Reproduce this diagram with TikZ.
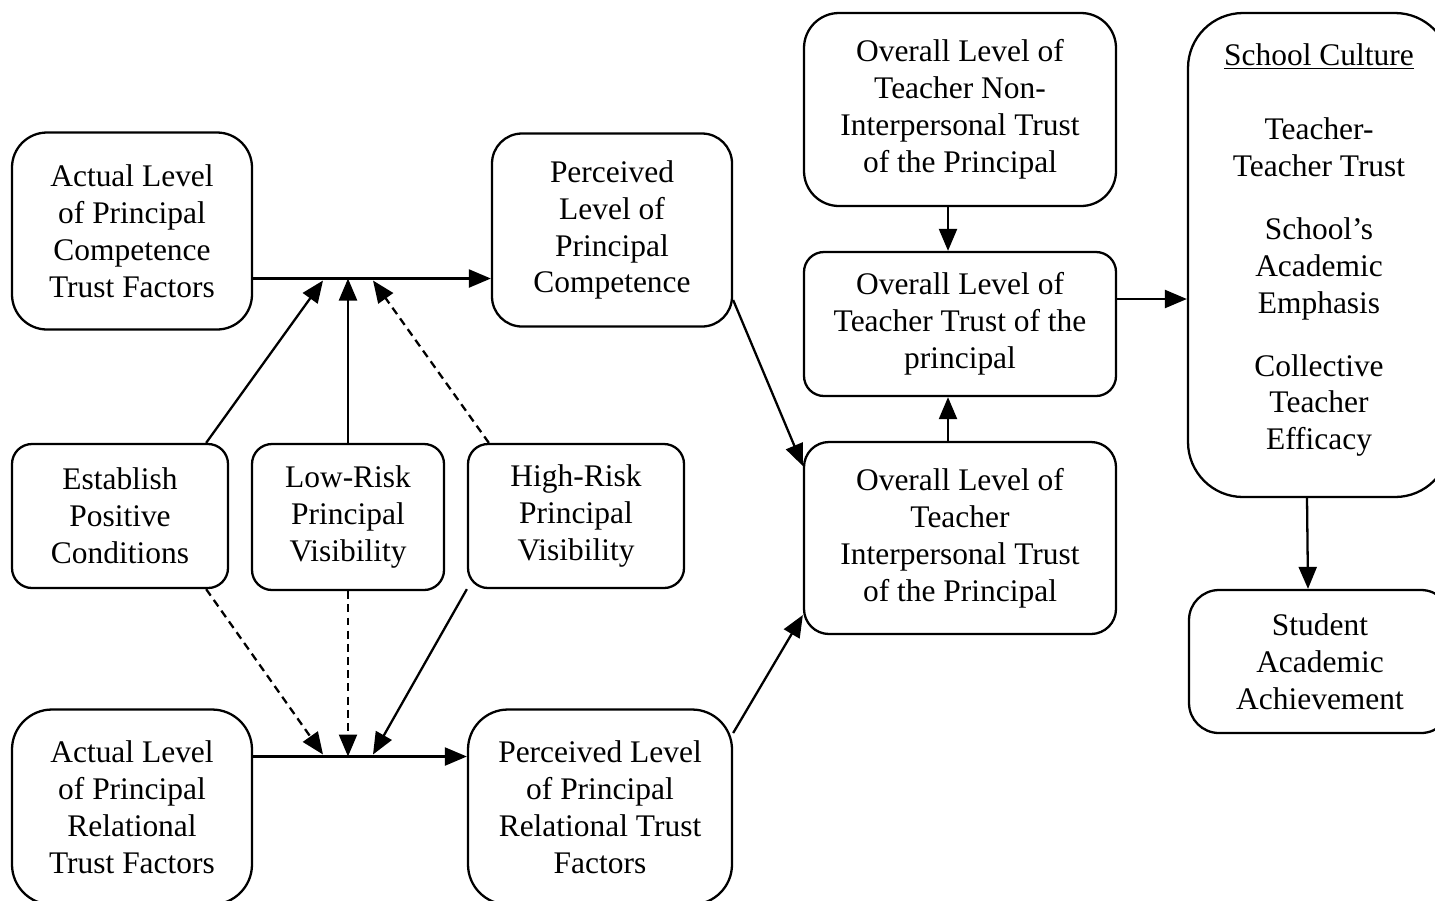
\documentclass[tikz,border=0pt]{standalone}
\usepackage{fontspec}
\setmainfont{Liberation Serif}
\usetikzlibrary{arrows.meta}
\begin{document}
\begin{tikzpicture}[line width = 1.3pt, >={Triangle[length = 0.44cm, width = 0.36cm]},
	trustbox/.style = {draw, rounded corners = 0.6cm, align = center, inner sep = 0pt, font = \fontsize{17.9}{21}\selectfont},
	dashedlink/.style = {dash pattern = on 4.5pt off 3pt}]
	\useasboundingbox (0, 0) rectangle (28.7, -18);
					\node (compactual) at (2.64, -4.62) [trustbox, rounded corners = 0.7cm, minimum height = 3.94cm, minimum width = 4.8cm] {Actual Level\\of Principal\\Competence\\Trust Factors};
					\node (compperc) at (12.24, -4.6) [trustbox, minimum height = 3.86cm, minimum width = 4.8cm] {Perceived\\Level of\\Principal\\Competence};
					\node (nonint) at (19.2, -2.19) [trustbox, rounded corners = 0.7cm, minimum height = 3.86cm, minimum width = 6.24cm] {Overall Level of\\Teacher Non-\\Interpersonal Trust\\of the Principal};
					\node (culture) at (26.38, -5.1) [trustbox, rounded corners = 1.1cm, minimum height = 9.68cm, minimum width = 5.24cm] {\underline{School Culture}\\[0.75cm]Teacher-\\Teacher Trust\\[0.52cm]School's\\Academic\\Emphasis\\[0.52cm]Collective\\Teacher\\Efficacy\\[-0.4cm]};
					\node (overall) at (19.2, -6.48) [trustbox, rounded corners = 0.4cm, minimum height = 2.88cm, minimum width = 6.24cm] {Overall Level of\\Teacher Trust of the\\principal};
					\node (establish) at (2.4, -10.32) [trustbox, rounded corners = 0.4cm, minimum height = 2.88cm, minimum width = 4.32cm] {Establish\\Positive\\Conditions};
					\node (lowrisk) at (6.96, -10.34) [trustbox, rounded corners = 0.4cm, minimum height = 2.92cm, minimum width = 3.84cm] {Low-Risk\\Principal\\Visibility};
					\node (highrisk) at (11.52, -10.32) [trustbox, rounded corners = 0.4cm, minimum height = 2.88cm, minimum width = 4.32cm] {High-Risk\\Principal\\Visibility};
					\node (interp) at (19.2, -10.76) [trustbox, rounded corners = 0.5cm, minimum height = 3.84cm, minimum width = 6.24cm] {Overall Level of\\Teacher\\Interpersonal Trust\\of the Principal};
					\node (student) at (26.4, -13.23) [trustbox, minimum height = 2.86cm, minimum width = 5.24cm] {Student\\Academic\\Achievement};
					\node (relactual) at (2.64, -16.14) [trustbox, rounded corners = 0.8cm, minimum height = 3.9cm, minimum width = 4.8cm] {Actual Level\\of Principal\\Relational\\Trust Factors};
					\node (relperc) at (12.0, -16.14) [trustbox, rounded corners = 0.8cm, minimum height = 3.9cm, minimum width = 5.28cm] {Perceived Level\\of Principal\\Relational Trust\\Factors};
					\coordinate (jtop) at (6.96, -5.57);
					\coordinate (jbot) at (6.96, -15.13);
					\coordinate (toculture) at ([yshift = 0.5cm]overall.east);
						\draw[->] (compactual.east |- jtop) -- (compperc.west |- jtop);
						\draw[->] ([xshift = -0.46cm]establish.north east) -- ([xshift = -0.5cm, yshift = -0.04cm]jtop);
						\draw[->] (lowrisk.north) -- (jtop);
						\draw[->, dashedlink] ([xshift = 0.44cm]highrisk.north west) -- ([xshift = 0.5cm, yshift = -0.04cm]jtop);
						\draw[->] (relactual.east |- jbot) -- (relperc.west |- jbot);
						\draw[->, dashedlink] ([xshift = -0.46cm]establish.south east) -- ([xshift = -0.5cm, yshift = 0.04cm]jbot);
						\draw[->, dashedlink] (lowrisk.south) -- (jbot);
						\draw[->] (highrisk.south west) -- ([xshift = 0.5cm, yshift = 0.04cm]jbot);
						\draw[->] ([yshift = -1.4cm]compperc.east) -- ([yshift = 1.44cm]interp.west);
						\draw[->] ([yshift = 1.48cm]relperc.east) -- ([yshift = -1.54cm]interp.west);
						\draw[->] ([xshift = -0.24cm]nonint.south) -- ([xshift = -0.24cm]overall.north);
						\draw[->] ([xshift = -0.24cm]interp.north) -- ([xshift = -0.24cm]overall.south);
						\draw[->] (toculture) -- (toculture -| culture.west);
						\draw[->] ([xshift = -0.24cm]culture.south) -- ([xshift = -0.24cm]student.north);
\end{tikzpicture}
\end{document}
